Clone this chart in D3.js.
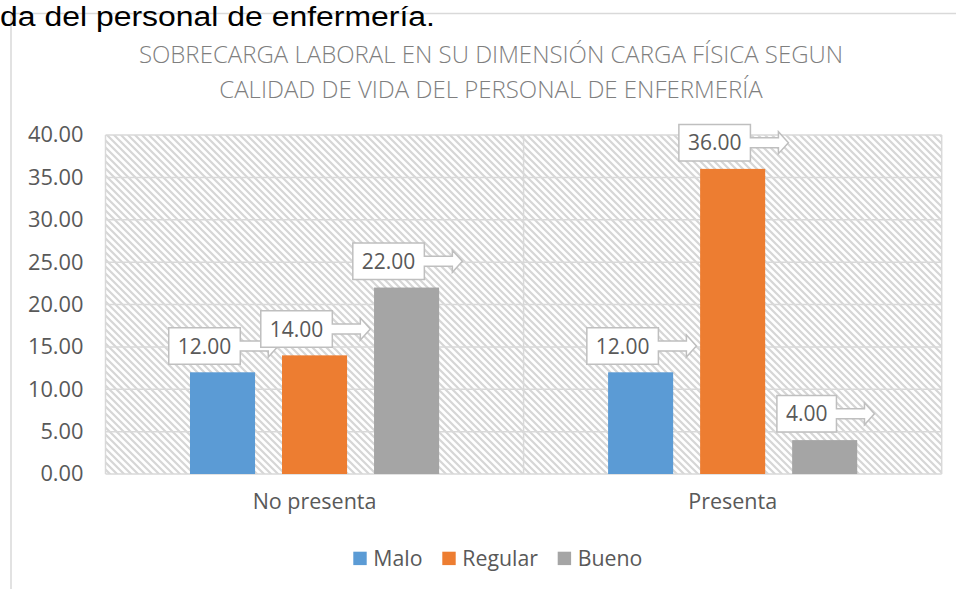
<!DOCTYPE html>
<html>
<head>
<meta charset="utf-8">
<script src="https://cdn.jsdelivr.net/npm/d3@7"></script>
<style>
  html, body { margin: 0; padding: 0; background: #fff; }
  svg { display: block; }
</style>
</head>
<body>
<svg id="chart" width="956" height="589"></svg>
<script>
// ---- data ----
const categories = ["No presenta", "Presenta"];
const seriesNames = ["Malo", "Regular", "Bueno"];
const seriesColors = ["#5b9bd5", "#ed7d31", "#a5a5a5"];
const malo = [12, 12];
const regular = [14, 36];
const bueno = [22, 4];
const yTicks = [0, 5, 10, 15, 20, 25, 30, 35, 40];
const titleLines = ["SOBRECARGA LABORAL EN SU DIMENSIÓN CARGA FÍSICA SEGUN", "CALIDAD DE VIDA DEL PERSONAL DE ENFERMERÍA"];
const headerText = "da del personal de enfermería.";

const seriesValues = [malo, regular, bueno];

const svg = d3.select("#chart");
const W = 956, H = 589;
const plot = { left: 105.5, right: 941.7, top: 135, bottom: 474 };
const textColor = "#595959";
const gridColor = "#d9d9d9";
const font = "'Open Sans', sans-serif";

// hatch pattern
const defs = svg.append("defs");
const pat = defs.append("pattern")
  .attr("id", "hatch").attr("patternUnits", "userSpaceOnUse")
  .attr("width", 7).attr("height", 7);
pat.append("rect").attr("width", 7).attr("height", 7).attr("fill", "#fff");
pat.append("path")
  .attr("d", "M-1,-1 L8,8 M-8,-1 L1,8 M6,-1 L15,8")
  .attr("stroke", "#d6d6d6").attr("stroke-width", 2.2);

// outer frame lines
svg.append("line").attr("x1", 10).attr("x2", W).attr("y1", 13.5).attr("y2", 13.5)
  .attr("stroke", "#d9d9d9").attr("stroke-width", 1.5);
svg.append("line").attr("x1", 11).attr("x2", 11).attr("y1", 13.5).attr("y2", H)
  .attr("stroke", "#d9d9d9").attr("stroke-width", 1.5);

// header text
svg.append("text").attr("x", 0).attr("y", 25.5)
  .attr("font-family", "'Liberation Sans', Arial, sans-serif").attr("font-size", 27)
  .attr("textLength", 435).attr("lengthAdjust", "spacingAndGlyphs")
  .attr("fill", "#000").text(headerText);

// title
svg.append("g").selectAll("text").data(titleLines).join("text")
  .attr("x", 491).attr("y", (d, i) => 63 + i * 34.5)
  .attr("text-anchor", "middle")
  .attr("font-family", font).attr("font-weight", 300).attr("font-size", 24)
  .attr("fill", "#7f7f7f").text(d => d);

// scales
const x0 = d3.scaleBand().domain(categories).range([plot.left, plot.right]).padding(0);
const x1 = d3.scaleBand().domain(seriesNames).range([0, x0.bandwidth()])
  .paddingInner(0.293).paddingOuter(0.918);
const y = d3.scaleLinear().domain([0, 40]).range([plot.bottom, plot.top]);

// plot background
svg.append("rect").attr("x", plot.left).attr("y", plot.top)
  .attr("width", plot.right - plot.left).attr("height", plot.bottom - plot.top)
  .attr("fill", "url(#hatch)");

// gridlines
svg.append("g").selectAll("line").data(yTicks).join("line")
  .attr("x1", plot.left).attr("x2", plot.right)
  .attr("y1", d => y(d)).attr("y2", d => y(d))
  .attr("stroke", gridColor).attr("stroke-width", 1.5);
// vertical lines
const vx = [plot.left, x0(categories[1]), plot.right];
svg.append("g").selectAll("line").data(vx).join("line")
  .attr("x1", d => d).attr("x2", d => d)
  .attr("y1", plot.top).attr("y2", plot.bottom)
  .attr("stroke", gridColor).attr("stroke-width", 1.5);

// y axis
const yAxis = d3.axisLeft(y).tickValues(yTicks).tickFormat(d3.format(".2f")).tickSize(0).tickPadding(22);
const yg = svg.append("g").attr("transform", `translate(${plot.left},0)`).call(yAxis);
yg.select(".domain").remove();
yg.selectAll("text").attr("font-family", font).attr("font-size", 21.8).attr("fill", textColor);

// x axis labels
const xAxis = d3.axisBottom(x0).tickSize(0).tickPadding(20);
const xg = svg.append("g").attr("transform", `translate(0,${plot.bottom})`).call(xAxis);
xg.select(".domain").remove();
xg.selectAll("text").attr("font-family", font).attr("font-size", 21.5).attr("fill", textColor);

// bars
const groups = svg.append("g").selectAll("g").data(categories).join("g")
  .attr("transform", d => `translate(${x0(d)},0)`);
groups.selectAll("rect").data((c, ci) => seriesNames.map((s, si) => ({ s, si, v: seriesValues[si][ci] })))
  .join("rect")
  .attr("x", d => x1(d.s)).attr("width", x1.bandwidth())
  .attr("y", d => y(d.v)).attr("height", d => plot.bottom - y(d.v))
  .attr("fill", d => seriesColors[d.si]);

// callout labels
const fmt = d3.format(".2f");
const labelLayer = svg.append("g");
categories.forEach((c, ci) => {
  seriesNames.forEach((s, si) => {
    const v = seriesValues[si][ci];
    const bx = x0(c) + x1(s);
    const cxBar = bx + x1.bandwidth() / 2;
    const g = labelLayer.append("g");
    const t = g.append("text").attr("font-family", font).attr("font-size", 21)
      .attr("fill", textColor).attr("text-anchor", "middle").text(fmt(v));
    const tw = t.node().getComputedTextLength();
    const bw = tw + 18, bh = 36.5;
    const cx = cxBar - 18;
    const bottom = y(v) - 8;
    const top = bottom - bh;
    const L = cx - bw / 2, R = cx + bw / 2, cy = (top + bottom) / 2;
    const p = [
      [L, top], [R, top], [R, cy - 5], [R + 28, cy - 5], [R + 28, cy - 11],
      [R + 38, cy], [R + 28, cy + 11], [R + 28, cy + 5], [R, cy + 5], [R, bottom], [L, bottom]
    ];
    g.insert("path", "text").attr("d", d3.line()(p) + "Z")
      .attr("fill", "#fff").attr("stroke", "#bfbfbf").attr("stroke-width", 1.5);
    t.attr("x", cx).attr("y", cy + 7.5);
  });
});

// legend
const legendItems = [
  { name: seriesNames[0], color: seriesColors[0], x: 353.3 },
  { name: seriesNames[1], color: seriesColors[1], x: 442.3 },
  { name: seriesNames[2], color: seriesColors[2], x: 557.7 }
];
const lg = svg.append("g");
legendItems.forEach(it => {
  lg.append("rect").attr("x", it.x).attr("y", 551.7).attr("width", 13.4).attr("height", 13.4).attr("fill", it.color);
  lg.append("text").attr("x", it.x + 20).attr("y", 565.5).attr("font-family", font).attr("font-size", 21.3)
    .attr("fill", textColor).text(it.name);
});
</script>
</body>
</html>
